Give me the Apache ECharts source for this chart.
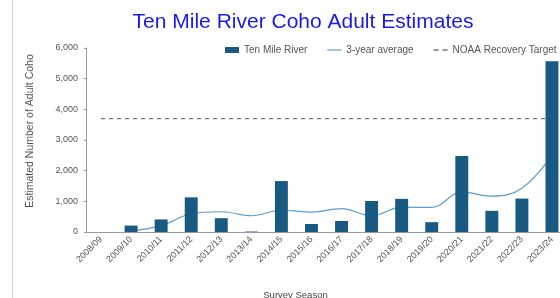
<!DOCTYPE html>
<html><head><meta charset="utf-8">
<script src="https://cdn.jsdelivr.net/npm/echarts@6/dist/echarts.min.js"></script>
<style>html,body{margin:0;padding:0;background:#fff}#c{width:560px;height:298px}</style>
</head><body><div id="c"></div>
<script>
const categories = ['2008/09','2009/10','2010/11','2011/12','2012/13','2013/14','2014/15','2015/16','2016/17','2017/18','2018/19','2019/20','2020/21','2021/22','2022/23','2023/24'];
const tenMileRiver = [0,210,410,1130,450,15,1660,260,360,1010,1080,320,2480,690,1090,5570];
const threeYearAvg = [null,30,210,590,660,530,710,650,760,530,810,800,1300,1170,1430,2500];
const noaaTarget = [3700,3700,3700,3700,3700,3700,3700,3700,3700,3700,3700,3700,3700,3700,3700,3700];
const yTicks = [0,1000,2000,3000,4000,5000,6000];

const chart = echarts.init(document.getElementById('c'), null, {renderer:'canvas'});
chart.setOption({
  animation:false,
  title:{text:'Ten Mile River Coho Adult Estimates',left:298,top:7,textAlign:'center',
    textStyle:{color:'#1a1ae6',fontFamily:'Liberation Sans, Arial',fontSize:21,fontWeight:'normal'}},
  graphic:[{type:'line',shape:{x1:12.5,y1:0,x2:12.5,y2:298},style:{stroke:'#d0d0d0',lineWidth:1}}],
  legend:{left:220,top:40,width:500,itemGap:20,itemWidth:14,itemHeight:6,
    textStyle:{color:'#555',fontFamily:'Liberation Sans, Arial',fontSize:10},
    data:[{name:'Ten Mile River',icon:'rect'},
          {name:'3-year average',icon:'path://M0,4L12,4L12,5L0,5Z'},
          {name:'NOAA Recovery Target',icon:'path://M0,4L4,4L4,5L0,5ZM7,4L11,4L11,5L7,5Z'}]},
  grid:{left:86,right:-7,top:48,bottom:66,containLabel:false,outerBoundsMode:'none'},
  xAxis:{type:'category',data:categories,name:'Survey Season',nameLocation:'middle',nameGap:58,
    nameTextStyle:{color:'#444',fontFamily:'Liberation Sans, Arial',fontSize:9.5,padding:[0,62,0,0]},
    axisLine:{lineStyle:{color:'#999'}},axisTick:{show:false},
    axisLabel:{rotate:45,color:'#555',fontFamily:'Liberation Sans, Arial',fontSize:9,margin:6,interval:0}},
  yAxis:{type:'value',min:0,max:6000,interval:1000,name:'Estimated Number of Adult Coho',nameLocation:'middle',nameGap:50,
    nameTextStyle:{color:'#555',fontFamily:'Liberation Sans, Arial',fontSize:10.5,padding:[0,0,0,18]},
    axisLine:{show:true,lineStyle:{color:'#999'}},axisTick:{show:true,length:2,lineStyle:{color:'#999'}},splitLine:{show:false},
    axisLabel:{color:'#555',fontFamily:'Liberation Sans, Arial',fontSize:9,margin:8,
      formatter:v=>yTicks.includes(v)?v.toLocaleString('en-US'):''}},
  series:[
    {name:'Ten Mile River',type:'bar',data:tenMileRiver,barWidth:'43%',z:3,itemStyle:{color:'#195a82'}},
    {name:'3-year average',type:'line',data:threeYearAvg,smooth:0.4,symbol:'none',z:2,
      lineStyle:{color:'#5b9bd5',width:1.2},itemStyle:{color:'#5b9bd5'}},
    {name:'NOAA Recovery Target',type:'line',data:noaaTarget,symbol:'none',z:1,
      lineStyle:{color:'#777',width:1.2,type:[4,4]},itemStyle:{color:'#777'}}
  ]
});
</script></body></html>
